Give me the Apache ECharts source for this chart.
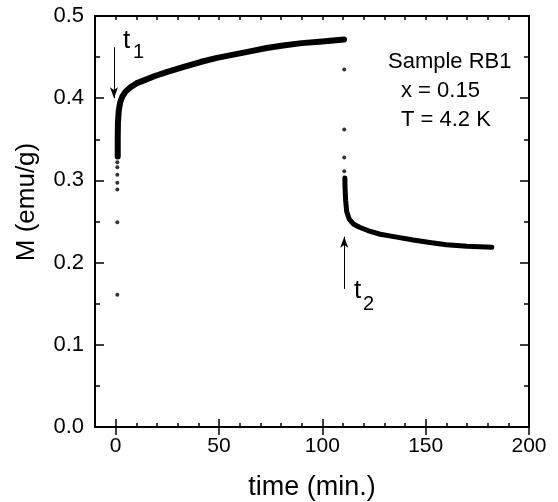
<!DOCTYPE html>
<html>
<head>
<meta charset="utf-8">
<script src="https://cdn.jsdelivr.net/npm/echarts@6/dist/echarts.min.js"></script>
<style>
html,body{margin:0;padding:0;background:#fff;}
#chart{width:558px;height:502px;}
</style>
</head>
<body>
<div id="chart"></div>
<script>
// ---- data ----
const riseTime = [1.0, 1.0, 1.1, 1.5, 2.2, 3.2, 4.8, 7, 10, 14, 19, 25, 33, 41, 49, 57, 65, 73, 81, 90, 100, 110.5];
const riseM    = [0.329, 0.350, 0.370, 0.385, 0.395, 0.402, 0.408, 0.413, 0.418, 0.422, 0.427, 0.432, 0.438, 0.444, 0.449, 0.453, 0.457, 0.461, 0.464, 0.467, 0.469, 0.4715];
const decayTime = [110.9, 111.0, 111.3, 111.8, 113, 115, 118, 122, 128, 136, 144, 152, 160, 170, 182];
const decayM    = [0.303, 0.290, 0.275, 0.262, 0.253, 0.247, 0.243, 0.239, 0.2345, 0.231, 0.2275, 0.2245, 0.2218, 0.2200, 0.2186];
const jump1Time = [0.8, 0.8, 0.8, 0.8, 0.8, 0.8, 0.8];
const jump1M    = [0.161, 0.249, 0.289, 0.297, 0.307, 0.316, 0.322];
const jump2Time = [110.6, 110.6, 110.6, 110.6];
const jump2M    = [0.435, 0.362, 0.328, 0.311];
const xMajorTicks = [0, 50, 100, 150, 200];
const yTickLabels = ['0.0', '0.1', '0.2', '0.3', '0.4', '0.5'];
const arrowT1 = [[-0.8, 0.462], [-0.8, 0.400]];
const arrowT2 = [[110.6, 0.168], [110.6, 0.2315]];
const noteLines = ['Sample RB1', 'x = 0.15', 'T = 4.2 K'];
const xTitle = 'time (min.)';
const yTitle = 'M (emu/g)';

const FONT = "'Liberation Sans', Arial, Helvetica, sans-serif";
const zip = (a, b) => a.map((v, i) => [v, b[i]]);

const chart = echarts.init(document.getElementById('chart'), null, {renderer: 'canvas'});

const axisLine = {show: true, onZero: false, lineStyle: {color: '#000', width: 2}};
const xBase = {type: 'value', min: -10, max: 200, splitLine: {show: false}};
const yBase = {type: 'value', min: 0, max: 0.5, interval: 0.1, splitLine: {show: false}};

const option = {
  backgroundColor: '#fff',
  animation: false,
  grid: {left: 95, right: 29, top: 16, bottom: 75, containLabel: false},
  xAxis: [
    Object.assign({}, xBase, {position: 'bottom', interval: 10, axisLine: axisLine,
      axisTick: {show: true, inside: true, length: 4, lineStyle: {color: '#000', width: 1.5}},
      axisLabel: {show: true, customValues: xMajorTicks, margin: 9, color: '#000', fontSize: 21, fontFamily: FONT}}),
    Object.assign({}, xBase, {position: 'bottom', axisLine: {show: false},
      axisTick: {show: true, inside: true, length: 8, customValues: xMajorTicks, lineStyle: {color: '#000', width: 1.5}},
      axisLabel: {show: false}}),
    Object.assign({}, xBase, {position: 'top', interval: 10, axisLine: axisLine,
      axisTick: {show: true, inside: true, length: 4, lineStyle: {color: '#000', width: 1.5}},
      axisLabel: {show: false}}),
    Object.assign({}, xBase, {position: 'top', axisLine: {show: false},
      axisTick: {show: true, inside: true, length: 8, customValues: xMajorTicks, lineStyle: {color: '#000', width: 1.5}},
      axisLabel: {show: false}})
  ],
  yAxis: [
    Object.assign({}, yBase, {position: 'left', axisLine: axisLine,
      axisTick: {show: true, inside: true, length: 9, lineStyle: {color: '#000', width: 1.5}},
      minorTick: {show: true, splitNumber: 2, length: 5, lineStyle: {color: '#000', width: 1.5}},
      axisLabel: {show: true, margin: 11, color: '#000', fontSize: 22, fontFamily: FONT,
        formatter: (v) => yTickLabels[Math.round(v * 10)]}}),
    Object.assign({}, yBase, {position: 'right', axisLine: axisLine,
      axisTick: {show: true, inside: true, length: 9, lineStyle: {color: '#000', width: 1.5}},
      minorTick: {show: true, splitNumber: 2, length: 5, lineStyle: {color: '#000', width: 1.5}},
      axisLabel: {show: false}})
  ],
  series: [
    {type: 'line', name: 'rise', data: zip(riseTime, riseM), showSymbol: false, symbol: 'none',
      lineStyle: {color: '#000', width: 6, join: 'round', cap: 'round'},
      markLine: {silent: true, symbol: ['none', 'arrow'], symbolSize: [6, 11], label: {show: false},
        lineStyle: {color: '#000', width: 1, type: 'solid'},
        data: [[{coord: arrowT1[0]}, {coord: arrowT1[1]}], [{coord: arrowT2[0]}, {coord: arrowT2[1]}]]}},
    {type: 'line', name: 'decay', data: zip(decayTime, decayM), showSymbol: false, symbol: 'none',
      lineStyle: {color: '#000', width: 5, join: 'round', cap: 'round'}},
    {type: 'scatter', name: 'jump1', data: zip(jump1Time, jump1M), symbolSize: 4, itemStyle: {color: '#000'}},
    {type: 'scatter', name: 'jump2', data: zip(jump2Time, jump2M), symbolSize: 4, itemStyle: {color: '#000'}}
  ],
  graphic: [
    {type: 'text', left: 388, top: 51, style: {text: noteLines[0], fontSize: 22, fontFamily: FONT, fill: '#000'}},
    {type: 'text', left: 401, top: 80, style: {text: noteLines[1], fontSize: 22, fontFamily: FONT, fill: '#000'}},
    {type: 'text', left: 401, top: 109, style: {text: noteLines[2], fontSize: 22, fontFamily: FONT, fill: '#000'}},
    {type: 'text', left: 123, top: 28, style: {text: 't', fontSize: 26, fontFamily: FONT, fill: '#000'}},
    {type: 'text', left: 133, top: 42, style: {text: '1', fontSize: 20, fontFamily: FONT, fill: '#000'}},
    {type: 'text', left: 354, top: 278, style: {text: 't', fontSize: 26, fontFamily: FONT, fill: '#000'}},
    {type: 'text', left: 363, top: 294, style: {text: '2', fontSize: 20, fontFamily: FONT, fill: '#000'}},
    {type: 'text', x: 312, y: 488, style: {text: xTitle, fontSize: 27, fontFamily: FONT, fill: '#000', align: 'center', verticalAlign: 'middle'}},
    {type: 'text', x: 27, y: 202, rotation: Math.PI / 2, style: {text: yTitle, fontSize: 26, fontFamily: FONT, fill: '#000', align: 'center', verticalAlign: 'middle'}}
  ]
};
chart.setOption(option);
</script>
</body>
</html>
